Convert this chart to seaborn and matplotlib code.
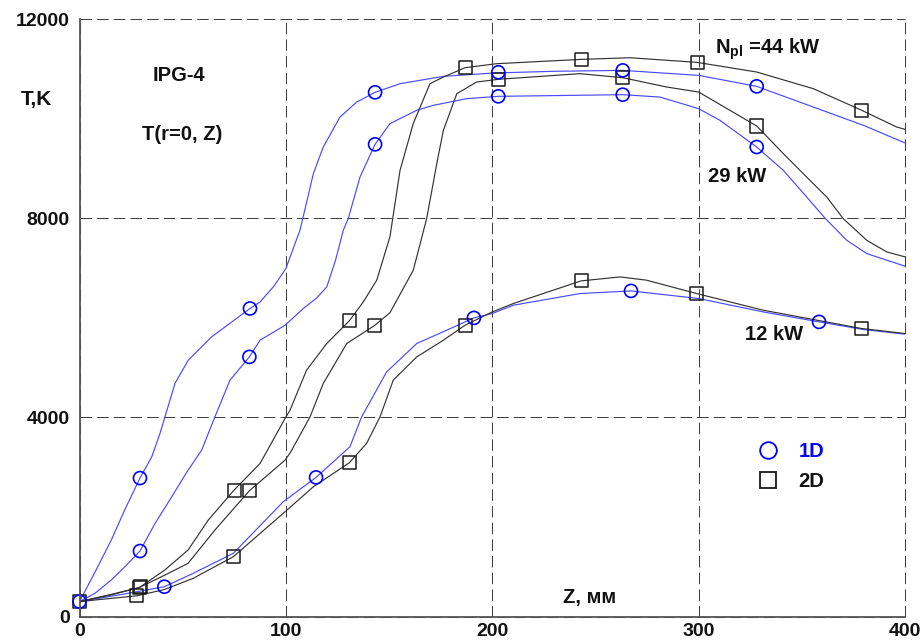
import matplotlib
matplotlib.use("Agg")
import matplotlib.pyplot as plt
from matplotlib.ticker import MultipleLocator
from matplotlib.lines import Line2D
import seaborn as sns

# Axial temperature T(r=0, Z) in the IPG-4 torch, 1D vs 2D model, three plasma powers
z_1d_44 = [0, 7, 15.4, 22, 29.3, 35, 39, 41.4, 46.3, 52.7, 64, 82.6, 87.5, 93.9, 100,
           106.8, 110.5, 113.3, 118.1, 126.2, 134.3, 143.2, 155.3, 176.3, 200.5, 230, 263.2,
           300, 328.1, 355.5, 379.8, 400]
t_1d_44 = [300, 850, 1535, 2150, 2780, 3207, 3677, 4010, 4686, 5148, 5616, 6186, 6318,
           6620, 6989, 7757, 8400, 8895, 9429, 10031, 10332, 10527, 10701, 10848, 10915, 10950,
           10968, 10868, 10647, 10232, 9865, 9510]

z_1d_29 = [0, 7.5, 15.4, 22, 29.3, 36.6, 44.7, 52, 59.2, 65.6, 72.9, 82.3, 87.5, 99.6,
           108.4, 115, 119.8, 124, 127.8, 130.2, 135.9, 143.2, 150.4, 163.4, 171.4, 187.6, 202.9,
           263.2, 281.2, 300, 310.3, 328.1, 341, 352.3, 361.2, 371.7, 381.4, 400]
t_1d_29 = [300, 466, 733, 1000, 1315, 1870, 2405, 2900, 3342, 4010, 4746, 5214, 5550,
           5850, 6185, 6400, 6620, 7150, 7757, 7992, 8827, 9483, 9898, 10166, 10266, 10400, 10447,
           10480, 10432, 10199, 9965, 9429, 8961, 8426, 8000, 7556, 7289, 7035]

z_1d_12 = [0, 20, 41.1, 55.1, 74.5, 98.7, 114.6, 131, 136.7, 148.8, 163.4, 177.9, 191.1,
           200, 210.2, 242.5, 267.2, 300, 331.3, 358.3, 379.8, 400]
t_1d_12 = [300, 440, 598, 867, 1268, 2304, 2794, 3408, 4010, 4913, 5483, 5750, 5997,
           6085, 6252, 6486, 6539, 6386, 6117, 5917, 5764, 5670]

z_2d_44 = [0, 15, 29, 41.3, 52.6, 62.4, 74.9, 87.5, 99.6, 102, 110, 119.8, 130.7, 137.5,
           144, 150.4, 155.3, 161.7, 169.8, 176.3, 186.8, 202, 243, 266.7, 299.2, 328.1,
           355.5, 379, 395.9, 400]
t_2d_44 = [300, 440, 582, 933, 1335, 1937, 2539, 3075, 3978, 4144, 4947, 5483, 5937,
           6318, 6754, 7623, 8961, 9900, 10701, 10834, 11022, 11102, 11189, 11222, 11129,
           10935, 10601, 10166, 9831, 9784]

z_2d_29 = [0, 15, 29, 41.3, 52.6, 65.6, 82.3, 99.6, 102, 111.7, 118.1, 129.5, 142.7,
           150.4, 161.7, 168.2, 173.1, 176.3, 182.8, 192.4, 203.2, 242.5, 263.2, 284.5,
           300, 328.1, 341, 353.9, 362, 370, 381.4, 391.1, 400]
t_2d_29 = [300, 430, 582, 830, 1068, 1736, 2525, 3141, 3281, 4010, 4680, 5483, 5837,
           6100, 6954, 7992, 9095, 9764, 10500, 10734, 10790, 10902, 10821, 10634, 10533,
           9851, 9296, 8760, 8426, 7992, 7556, 7322, 7222]

z_2d_12 = [0, 27.7, 41, 55.1, 74.5, 98.7, 113.3, 130.7, 139.1, 145.6, 152, 163.4, 176.3,
           186.8, 200, 210.2, 243, 261.9, 274.8, 299, 331.3, 379, 400]
t_2d_12 = [300, 415, 540, 767, 1200, 2071, 2605, 3087, 3476, 4010, 4746, 5214, 5549,
           5850, 6117, 6286, 6740, 6820, 6754, 6486, 6151, 5784, 5683]

# Computed points shown with symbols
mz_1d_44 = [0, 29.3, 82.6, 143.2, 202.9, 263.2, 328.1]
mt_1d_44 = [300, 2780, 6186, 10527, 10930, 10968, 10647]
mz_1d_29 = [29.3, 82.3, 143.2, 202.9, 263.2, 328.1]
mt_1d_29 = [1315, 5214, 9483, 10447, 10480, 9429]
mz_1d_12 = [41.1, 114.6, 191.1, 267.2, 358.3]
mt_1d_12 = [598, 2794, 5997, 6539, 5917]
mz_2d_44 = [0, 29, 74.9, 130.7, 186.8, 243, 299.2, 379]
mt_2d_44 = [300, 582, 2539, 5937, 11022, 11189, 11129, 10166]
mz_2d_29 = [29.5, 82.3, 142.7, 203.2, 263.2, 328.1]
mt_2d_29 = [600, 2525, 5837, 10790, 10821, 9851]
mz_2d_12 = [27.7, 74.5, 130.7, 186.8, 243, 299, 379]
mt_2d_12 = [415, 1200, 3087, 5850, 6740, 6486, 5784]

x_ticks = [0, 100, 200, 300, 400]
y_ticks = [0, 4000, 8000, 12000]

BLUE_LINE = "#4a4aff"
BLUE_MARK = "#0000ff"
BLACK_LINE = "#333333"
BLACK_MARK = "#1a1a1a"

sns.set_style("white")
plt.rcParams["font.family"] = ["Liberation Sans", "DejaVu Sans"]
plt.rcParams["font.weight"] = "bold"
plt.rcParams["mathtext.fontset"] = "custom"
plt.rcParams["mathtext.rm"] = "Liberation Sans:bold"
plt.rcParams["mathtext.bf"] = "Liberation Sans:bold"
plt.rcParams["mathtext.it"] = "Liberation Sans:bold"

fig = plt.figure(figsize=(9.24, 6.43), dpi=100)
ax = fig.add_axes([79.5 / 924, 1 - 616.5 / 643, (905.1 - 79.5) / 924, (616.5 - 19) / 643])

curves = [
    (z_1d_44, t_1d_44, BLUE_LINE), (z_1d_29, t_1d_29, BLUE_LINE), (z_1d_12, t_1d_12, BLUE_LINE),
    (z_2d_44, t_2d_44, BLACK_LINE), (z_2d_29, t_2d_29, BLACK_LINE), (z_2d_12, t_2d_12, BLACK_LINE),
]
for zz, tt, col in curves:
    sns.lineplot(x=zz, y=tt, ax=ax, color=col, lw=0.85, sort=False, estimator=None, zorder=3)

points_1d = [(mz_1d_44, mt_1d_44), (mz_1d_29, mt_1d_29), (mz_1d_12, mt_1d_12)]
points_2d = [(mz_2d_44, mt_2d_44), (mz_2d_29, mt_2d_29), (mz_2d_12, mt_2d_12)]
for zz, tt in points_1d:
    sns.scatterplot(x=zz, y=tt, ax=ax, marker="o", s=88, facecolor="none",
                    edgecolor=BLUE_MARK, linewidth=1.2, zorder=5, clip_on=False)
for zz, tt in points_2d:
    sns.scatterplot(x=zz, y=tt, ax=ax, marker="s", s=88, facecolor="none",
                    edgecolor=BLACK_MARK, linewidth=1.1, zorder=4, clip_on=False)

ax.set_xlim(0, 400)
ax.set_ylim(0, 12000)
ax.set_xticks(x_ticks)
ax.set_yticks(y_ticks)
ax.set_xticklabels([str(v) for v in x_ticks])
ax.set_yticklabels([str(v) for v in y_ticks])
ax.xaxis.set_minor_locator(MultipleLocator(50))
ax.yaxis.set_minor_locator(MultipleLocator(2000))
ax.tick_params(axis="both", which="major", labelsize=14, colors="#111111",
               length=6, width=1, pad=1)
ax.tick_params(axis="x", which="major", length=4.5, pad=0.5)
ax.tick_params(axis="both", which="minor", length=3.5, width=1)
ax.tick_params(axis="both", which="both", direction="out", color="#555555")
ax.set_xlabel("")
ax.set_ylabel("")

# dashed grid, including the frame lines at the top and right
ax.grid(True, which="major", color="#404040", lw=0.75, linestyle=(0, (11, 5)), zorder=1)
for gl in ax.get_xgridlines() + ax.get_ygridlines():
    gl.set_clip_on(False)
for side in ("top", "right"):
    ax.spines[side].set_visible(False)
for side in ("left", "bottom"):
    ax.spines[side].set_color("#555555")
    ax.spines[side].set_linewidth(1.3)
    ax.spines[side].set_zorder(6)

fig.text(36 / 924, 1 - 99.5 / 643, "T,K", ha="center", va="center",
         fontsize=15, fontweight="bold", color="#111111")
ax.text(48.4, 10858, "IPG-4", ha="center", va="center", fontsize=14.5,
        fontweight="bold", color="#111111")
ax.text(49.9, 9674, "T(r=0, Z)", ha="center", va="center", fontsize=14.5,
        fontweight="bold", color="#111111")
ax.text(307.9, 11310, r"N$_{\mathrm{pl}}$ =44 kW", ha="left", va="baseline",
        fontsize=14.5, fontweight="bold", color="#111111")
ax.text(318.8, 8831, "29 kW", ha="center", va="center", fontsize=14.5,
        fontweight="bold", color="#111111")
ax.text(336.5, 5670, "12 kW", ha="center", va="center", fontsize=14.5,
        fontweight="bold", color="#111111")
ax.text(247.3, 391, "Z, мм", ha="center", va="center", fontsize=14.5,
        fontweight="bold", color="#111111")

handles = [
    Line2D([], [], ls="none", marker="o", ms=12, mfc="none", mec=BLUE_MARK, mew=1.3),
    Line2D([], [], ls="none", marker="s", ms=12, mfc="none", mec=BLACK_MARK, mew=1.3),
]
ax.legend(handles, ["1D", "2D"], loc="center left", bbox_to_anchor=(328.9, 3020),
          bbox_transform=ax.transData, frameon=False,
          labelcolor=[BLUE_MARK, "#111111"], handlelength=1.0, handletextpad=1.0,
          labelspacing=0.55, borderpad=0, borderaxespad=0,
          prop={"weight": "bold", "size": 14.5})

fig.savefig("out.png", dpi=100)
